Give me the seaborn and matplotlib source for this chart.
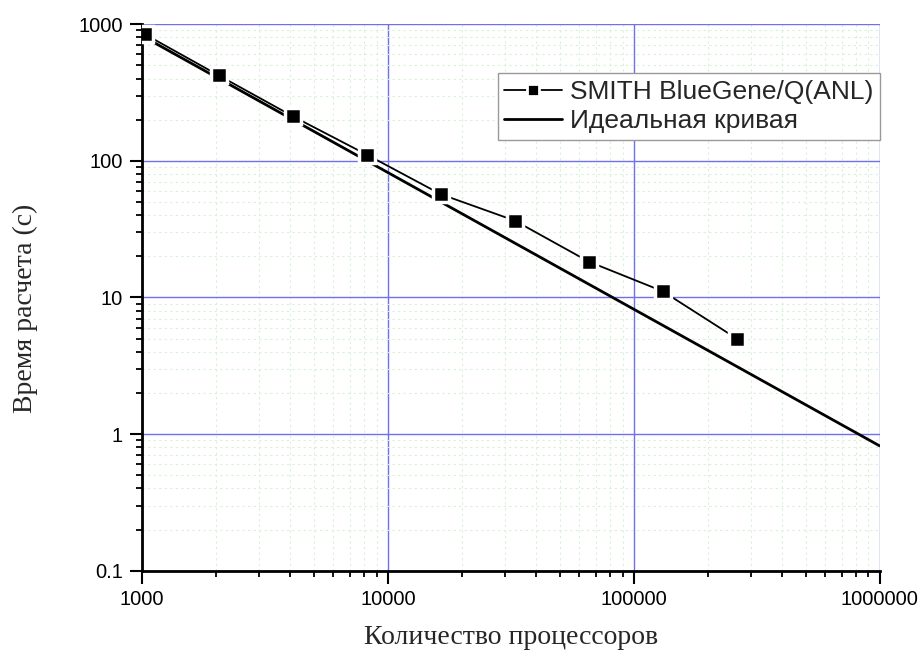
import numpy as np
import pandas as pd
import matplotlib
matplotlib.use("Agg")
import matplotlib.pyplot as plt
from matplotlib.ticker import LogLocator, FuncFormatter, NullFormatter
import seaborn as sns

procs = [1024, 2048, 4096, 8192, 16384, 32768, 65536, 131072, 262144]
times = [845, 422, 212, 111, 57, 36.5, 18.3, 11.1, 5.0]

# Ideal scaling curve endpoints
ideal_procs = [1000, 1000000]
ideal_times = [820, 0.82]

series_label = "SMITH BlueGene/Q(ANL)"
ideal_label = "Идеальная кривая"
x_label = "Количество процессоров"
y_label = "Время расчета (с)"

sns.set_theme(style="white")
plt.rcParams['font.family'] = ['Liberation Sans', 'DejaVu Sans']
serif = ["Liberation Serif", "DejaVu Serif"]

fig = plt.figure(figsize=(9.23, 6.53), dpi=100)
ax = fig.add_axes([0.154, 0.126, 0.799, 0.837])

df = pd.DataFrame({"procs": procs, "time": times})
df_ideal = pd.DataFrame({"procs": ideal_procs, "time": ideal_times})

sns.lineplot(data=df, x="procs", y="time", ax=ax, color="black", linewidth=1.3,
             marker="s", markersize=11, markeredgecolor="white", markeredgewidth=2.5,
             label=series_label, zorder=4)
sns.lineplot(data=df_ideal, x="procs", y="time", ax=ax, color="black", linewidth=2,
             label=ideal_label, zorder=3)

ax.set_xscale("log")
ax.set_yscale("log")
ax.set_xlim(1000, 1000000)
ax.set_ylim(0.1, 1000)

ax.xaxis.set_major_locator(LogLocator(base=10))
ax.yaxis.set_major_locator(LogLocator(base=10))
ax.xaxis.set_minor_locator(LogLocator(base=10, subs=np.arange(2, 10)))
ax.yaxis.set_minor_locator(LogLocator(base=10, subs=np.arange(2, 10)))
ax.xaxis.set_major_formatter(FuncFormatter(lambda v, p: f"{v:.0f}"))
ax.yaxis.set_major_formatter(FuncFormatter(lambda v, p: f"{v:g}"))
ax.xaxis.set_minor_formatter(NullFormatter())
ax.yaxis.set_minor_formatter(NullFormatter())

ax.grid(which="minor", color="#d6f2d6", linestyle=(0, (2, 3)), linewidth=0.8)
ax.grid(which="major", color="#7070e8", linestyle="-", linewidth=1)
ax.set_axisbelow(True)

for side in ["top", "right"]:
    ax.spines[side].set_visible(False)
for side in ["left", "bottom"]:
    ax.spines[side].set_color("black")
    ax.spines[side].set_linewidth(2)

ax.tick_params(which="major", direction="out", length=9, width=1.5, colors="black",
               labelsize=14.5, left=True, bottom=True, pad=5)
ax.tick_params(which="minor", direction="out", length=4, width=1.3, colors="black",
               left=True, bottom=True)

ax.set_xlabel(x_label, family=serif, fontsize=20, va="top")
ax.set_ylabel(y_label, family=serif, fontsize=20)
ax.xaxis.set_label_coords(0.5, -0.1)
ax.yaxis.set_label_coords(-0.141, 0.48)

leg = ax.legend(loc="upper left", bbox_to_anchor=(0.482, 0.91), fontsize=19,
                frameon=True, fancybox=False, edgecolor="#999999", framealpha=1,
                handlelength=2.2, handletextpad=0.3, borderpad=0.25,
                labelspacing=0.2, borderaxespad=0)
leg.get_frame().set_linewidth(1)
for h in leg.legend_handles:
    h.set_markersize(8)
    h.set_markeredgewidth(2)

fig.savefig("out.png", dpi=100)
